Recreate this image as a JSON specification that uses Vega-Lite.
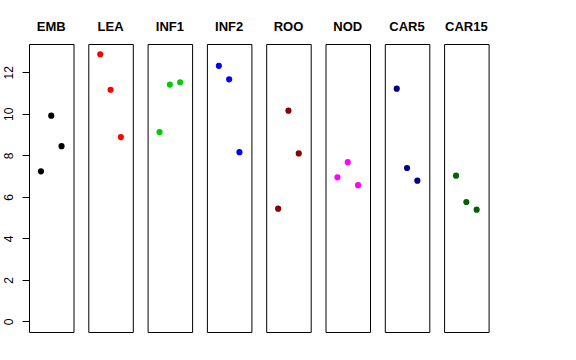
{
  "$schema": "https://vega.github.io/schema/vega-lite/v6.json",
  "padding": {"left": 1, "top": 20, "right": 5, "bottom": 5},
  "spacing": 13.3,
  "data": {"values": [
    {"g": "EMB", "i": 1, "v": 7.23}, {"g": "EMB", "i": 2, "v": 9.91}, {"g": "EMB", "i": 3, "v": 8.44},
    {"g": "LEA", "i": 1, "v": 12.87}, {"g": "LEA", "i": 2, "v": 11.16}, {"g": "LEA", "i": 3, "v": 8.88},
    {"g": "INF1", "i": 1, "v": 9.12}, {"g": "INF1", "i": 2, "v": 11.41}, {"g": "INF1", "i": 3, "v": 11.52},
    {"g": "INF2", "i": 1, "v": 12.31}, {"g": "INF2", "i": 2, "v": 11.66}, {"g": "INF2", "i": 3, "v": 8.15},
    {"g": "ROO", "i": 1, "v": 5.43}, {"g": "ROO", "i": 2, "v": 10.15}, {"g": "ROO", "i": 3, "v": 8.09},
    {"g": "NOD", "i": 1, "v": 6.94}, {"g": "NOD", "i": 2, "v": 7.67}, {"g": "NOD", "i": 3, "v": 6.56},
    {"g": "CAR5", "i": 1, "v": 11.21}, {"g": "CAR5", "i": 2, "v": 7.39}, {"g": "CAR5", "i": 3, "v": 6.78},
    {"g": "CAR15", "i": 1, "v": 7.02}, {"g": "CAR15", "i": 2, "v": 5.75}, {"g": "CAR15", "i": 3, "v": 5.38}
  ]},
  "hconcat": [
    {"title": "EMB", "width": 44.5, "height": 288, "transform": [{"filter": "datum.g === 'EMB'"}],
     "mark": {"type": "circle", "size": 38, "opacity": 1},
     "encoding": {
       "x": {"field": "i", "type": "quantitative", "scale": {"domain": [-0.16, 4.16], "nice": false, "zero": false}, "axis": null},
       "y": {"field": "v", "type": "quantitative", "scale": {"domain": [-0.514, 13.364], "nice": false, "zero": false},
             "axis": {"title": null, "values": [0, 2, 4, 6, 8, 10, 12], "domain": false, "grid": false, "tickSize": 7, "tickColor": "black", "labelAngle": 270, "labelAlign": "center", "labelBaseline": "bottom", "labelFontSize": 12, "labelColor": "black", "labelPadding": 7, "minExtent": 24, "maxExtent": 24}},
       "color": {"field": "g", "type": "nominal", "scale": {"domain": ["EMB", "LEA", "INF1", "INF2", "ROO", "NOD", "CAR5", "CAR15"], "range": ["#000000", "#FF0000", "#00CD00", "#0000FF", "#8B0000", "#FF00FF", "#000080", "#006400"]}, "legend": null}
     }},
    {"title": "LEA", "width": 44.5, "height": 288, "transform": [{"filter": "datum.g === 'LEA'"}],
     "mark": {"type": "circle", "size": 38, "opacity": 1},
     "encoding": {
       "x": {"field": "i", "type": "quantitative", "scale": {"domain": [-0.16, 4.16], "nice": false, "zero": false}, "axis": null},
       "y": {"field": "v", "type": "quantitative", "scale": {"domain": [-0.514, 13.364], "nice": false, "zero": false}, "axis": null},
       "color": {"field": "g", "type": "nominal", "scale": {"domain": ["EMB", "LEA", "INF1", "INF2", "ROO", "NOD", "CAR5", "CAR15"], "range": ["#000000", "#FF0000", "#00CD00", "#0000FF", "#8B0000", "#FF00FF", "#000080", "#006400"]}, "legend": null}
     }},
    {"title": "INF1", "width": 44.5, "height": 288, "transform": [{"filter": "datum.g === 'INF1'"}],
     "mark": {"type": "circle", "size": 38, "opacity": 1},
     "encoding": {
       "x": {"field": "i", "type": "quantitative", "scale": {"domain": [-0.16, 4.16], "nice": false, "zero": false}, "axis": null},
       "y": {"field": "v", "type": "quantitative", "scale": {"domain": [-0.514, 13.364], "nice": false, "zero": false}, "axis": null},
       "color": {"field": "g", "type": "nominal", "scale": {"domain": ["EMB", "LEA", "INF1", "INF2", "ROO", "NOD", "CAR5", "CAR15"], "range": ["#000000", "#FF0000", "#00CD00", "#0000FF", "#8B0000", "#FF00FF", "#000080", "#006400"]}, "legend": null}
     }},
    {"title": "INF2", "width": 44.5, "height": 288, "transform": [{"filter": "datum.g === 'INF2'"}],
     "mark": {"type": "circle", "size": 38, "opacity": 1},
     "encoding": {
       "x": {"field": "i", "type": "quantitative", "scale": {"domain": [-0.16, 4.16], "nice": false, "zero": false}, "axis": null},
       "y": {"field": "v", "type": "quantitative", "scale": {"domain": [-0.514, 13.364], "nice": false, "zero": false}, "axis": null},
       "color": {"field": "g", "type": "nominal", "scale": {"domain": ["EMB", "LEA", "INF1", "INF2", "ROO", "NOD", "CAR5", "CAR15"], "range": ["#000000", "#FF0000", "#00CD00", "#0000FF", "#8B0000", "#FF00FF", "#000080", "#006400"]}, "legend": null}
     }},
    {"title": "ROO", "width": 44.5, "height": 288, "transform": [{"filter": "datum.g === 'ROO'"}],
     "mark": {"type": "circle", "size": 38, "opacity": 1},
     "encoding": {
       "x": {"field": "i", "type": "quantitative", "scale": {"domain": [-0.16, 4.16], "nice": false, "zero": false}, "axis": null},
       "y": {"field": "v", "type": "quantitative", "scale": {"domain": [-0.514, 13.364], "nice": false, "zero": false}, "axis": null},
       "color": {"field": "g", "type": "nominal", "scale": {"domain": ["EMB", "LEA", "INF1", "INF2", "ROO", "NOD", "CAR5", "CAR15"], "range": ["#000000", "#FF0000", "#00CD00", "#0000FF", "#8B0000", "#FF00FF", "#000080", "#006400"]}, "legend": null}
     }},
    {"title": "NOD", "width": 44.5, "height": 288, "transform": [{"filter": "datum.g === 'NOD'"}],
     "mark": {"type": "circle", "size": 38, "opacity": 1},
     "encoding": {
       "x": {"field": "i", "type": "quantitative", "scale": {"domain": [-0.16, 4.16], "nice": false, "zero": false}, "axis": null},
       "y": {"field": "v", "type": "quantitative", "scale": {"domain": [-0.514, 13.364], "nice": false, "zero": false}, "axis": null},
       "color": {"field": "g", "type": "nominal", "scale": {"domain": ["EMB", "LEA", "INF1", "INF2", "ROO", "NOD", "CAR5", "CAR15"], "range": ["#000000", "#FF0000", "#00CD00", "#0000FF", "#8B0000", "#FF00FF", "#000080", "#006400"]}, "legend": null}
     }},
    {"title": "CAR5", "width": 44.5, "height": 288, "transform": [{"filter": "datum.g === 'CAR5'"}],
     "mark": {"type": "circle", "size": 38, "opacity": 1},
     "encoding": {
       "x": {"field": "i", "type": "quantitative", "scale": {"domain": [-0.16, 4.16], "nice": false, "zero": false}, "axis": null},
       "y": {"field": "v", "type": "quantitative", "scale": {"domain": [-0.514, 13.364], "nice": false, "zero": false}, "axis": null},
       "color": {"field": "g", "type": "nominal", "scale": {"domain": ["EMB", "LEA", "INF1", "INF2", "ROO", "NOD", "CAR5", "CAR15"], "range": ["#000000", "#FF0000", "#00CD00", "#0000FF", "#8B0000", "#FF00FF", "#000080", "#006400"]}, "legend": null}
     }},
    {"title": "CAR15", "width": 44.5, "height": 288, "transform": [{"filter": "datum.g === 'CAR15'"}],
     "mark": {"type": "circle", "size": 38, "opacity": 1},
     "encoding": {
       "x": {"field": "i", "type": "quantitative", "scale": {"domain": [-0.16, 4.16], "nice": false, "zero": false}, "axis": null},
       "y": {"field": "v", "type": "quantitative", "scale": {"domain": [-0.514, 13.364], "nice": false, "zero": false}, "axis": null},
       "color": {"field": "g", "type": "nominal", "scale": {"domain": ["EMB", "LEA", "INF1", "INF2", "ROO", "NOD", "CAR5", "CAR15"], "range": ["#000000", "#FF0000", "#00CD00", "#0000FF", "#8B0000", "#FF00FF", "#000080", "#006400"]}, "legend": null}
     }}
  ],
  "config": {
    "font": "Liberation Sans",
    "background": "white",
    "view": {"stroke": "black", "strokeWidth": 1},
    "title": {"fontSize": 13, "fontWeight": "bold", "color": "black", "offset": 10, "anchor": "middle"}
  }
}
